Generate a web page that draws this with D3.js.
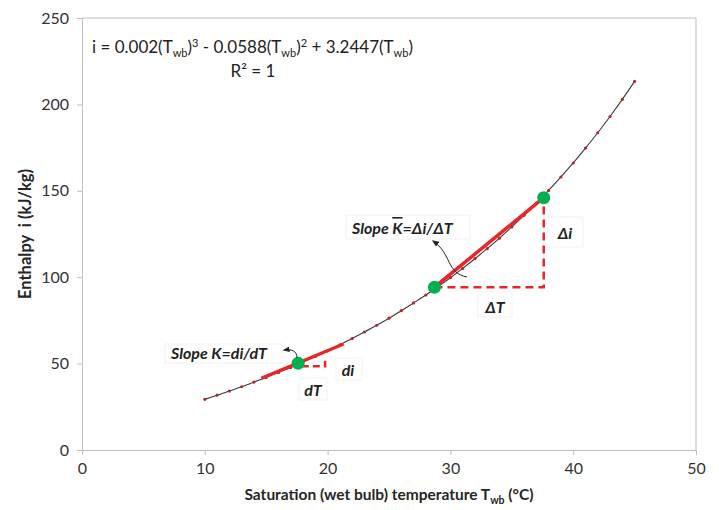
<!DOCTYPE html>
<html>
<head>
<meta charset="utf-8">
<script src="https://cdn.jsdelivr.net/npm/d3@7"></script>
<style>
  body { margin: 0; background: #fff; }
  text { font-family: Lato, "Open Sans", sans-serif; }
</style>
</head>
<body>
<svg width="719" height="510"></svg>
<script>
// saturated air enthalpy, one point per degree
const temps = [10, 11, 12, 13, 14, 15, 16, 17, 18, 19, 20, 21, 22, 23, 24, 25, 26, 27,
  28, 29, 30, 31, 32, 33, 34, 35, 36, 37, 38, 39, 40, 41, 42, 43, 44, 45];
const enthalpy = [29.3, 31.7, 34.1, 36.6, 39.3, 42.0, 44.9, 47.8, 50.9, 54.1, 57.4, 60.9,
  64.5, 68.3, 72.2, 76.3, 80.6, 85.1, 89.7, 94.6, 99.7, 105.1, 110.7, 116.5, 122.6, 129.1,
  135.8, 142.8, 150.2, 158.0, 166.1, 174.7, 183.6, 193.0, 202.9, 213.3];

// green points, tangent and secant
const keyT = [17.6, 28.7, 37.6];
const keyI = [50.2, 94.2, 146.0];
const tangentT = [14.6, 21.3];
const tangentI = [41.5, 61.3];
const deltaT = [28.7, 37.6, 37.6];
const deltaI = [94.2, 94.2, 141.8];
const smallT = [17.9, 19.8, 19.8];
const smallI = [48.4, 48.4, 51.8];

const xTicks = [0, 10, 20, 30, 40, 50];
const yTicks = [0, 50, 100, 150, 200, 250];

const svg = d3.select("svg");
const margin = {top: 18, right: 23, bottom: 60, left: 82};
const width = +svg.attr("width");
const height = +svg.attr("height");

const x = d3.scaleLinear().domain([0, 50]).range([margin.left, width - margin.right]);
const y = d3.scaleLinear().domain([0, 250]).range([height - margin.bottom, margin.top]);

const grey = "#bfbfbf";

// plot border (top + right)
svg.append("path")
  .attr("d", `M${x(0)},${y(250)}H${x(50)}V${y(0)}`)
  .attr("fill", "none").attr("stroke", grey);

// axes
const xAxis = svg.append("g")
  .attr("transform", `translate(0,${y(0)})`)
  .call(d3.axisBottom(x).tickValues(xTicks).tickSize(5).tickPadding(8));
const yAxis = svg.append("g")
  .attr("transform", `translate(${x(0)},0)`)
  .call(d3.axisLeft(y).tickValues(yTicks).tickSize(5).tickPadding(8));
[xAxis, yAxis].forEach(g => {
  g.select(".domain").attr("stroke", grey);
  g.selectAll(".tick line").attr("stroke", grey);
  g.selectAll(".tick text").attr("fill", "#333").style("font-size", "16px")
    .style("font-family", "Lato, sans-serif");
});

// axis titles
const xt = svg.append("text")
  .attr("x", (x(0) + x(50)) / 2).attr("y", 500)
  .attr("text-anchor", "middle")
  .style("font-size", "15.5px").style("font-weight", "bold").attr("fill", "#262626");
xt.append("tspan").text("Saturation (wet bulb) temperature T");
xt.append("tspan").attr("dy", 4).style("font-size", "10.5px").text("wb");
xt.append("tspan").attr("dy", -4).text(" (°C)");

svg.append("text")
  .attr("transform", `translate(31,${(y(0) + y(250)) / 2}) rotate(-90)`)
  .attr("text-anchor", "middle")
  .style("font-size", "16.5px").style("font-weight", "bold").attr("fill", "#262626")
  .attr("xml:space", "preserve")
  .text("Enthalpy  i (kJ/kg)");

// equation
const eq = svg.append("text").attr("x", 92).attr("y", 53)
  .style("font-size", "17px").attr("fill", "#222");
function twb(t) {
  t.append("tspan").text("(T");
  t.append("tspan").attr("dy", 4).style("font-size", "11px").text("wb");
  t.append("tspan").attr("dy", -4).text(")");
}
eq.append("tspan").text("i = 0.002");
twb(eq);
eq.append("tspan").attr("dy", -6).style("font-size", "11px").text("3");
eq.append("tspan").attr("dy", 6).text(" - 0.0588");
twb(eq);
eq.append("tspan").attr("dy", -6).style("font-size", "11px").text("2");
eq.append("tspan").attr("dy", 6).text(" + 3.2447");
twb(eq);
svg.append("text").attr("x", 253).attr("y", 77).attr("text-anchor", "middle")
  .style("font-size", "17px").attr("fill", "#222").text("R² = 1");

// curve and markers
const pts = temps.map((t, i) => [t, enthalpy[i]]);
const line = d3.line().x(d => x(d[0])).y(d => y(d[1])).curve(d3.curveMonotoneX);
svg.append("path").datum(pts).attr("d", line)
  .attr("fill", "none").attr("stroke", "#3a3a3a").attr("stroke-width", 1.1);
svg.append("g").selectAll("circle").data(pts).join("circle")
  .attr("cx", d => x(d[0])).attr("cy", d => y(d[1])).attr("r", 1.6)
  .attr("fill", "#b3262a");

const straight = d3.line().x(d => x(d[0])).y(d => y(d[1]));

// tangent at lower point
svg.append("path").datum(tangentT.map((t, i) => [t, tangentI[i]]))
  .attr("d", straight).attr("stroke", "#e8262a").attr("stroke-width", 3.2).attr("fill", "none");
// secant
svg.append("path").datum([[keyT[1], keyI[1]], [keyT[2], keyI[2]]])
  .attr("d", straight).attr("stroke", "#e8262a").attr("stroke-width", 3.5).attr("fill", "none");

// dashed triangles
svg.append("path").datum(deltaT.map((t, i) => [t, deltaI[i]]))
  .attr("d", straight).attr("stroke", "#e8262a").attr("stroke-width", 2.5)
  .attr("stroke-dasharray", "8,5").attr("fill", "none");
svg.append("path").datum(smallT.map((t, i) => [t, smallI[i]]))
  .attr("d", straight).attr("stroke", "#e8262a").attr("stroke-width", 2.5)
  .attr("stroke-dasharray", "7,4").attr("fill", "none");

// green points
svg.append("g").selectAll("circle").data(keyT.map((t, i) => [t, keyI[i]])).join("circle")
  .attr("cx", d => x(d[0])).attr("cy", d => y(d[1])).attr("r", 6.5)
  .attr("fill", "#00b04f");

// arrow marker
svg.append("defs").append("marker")
  .attr("id", "arr").attr("viewBox", "0 0 10 10").attr("refX", 8).attr("refY", 5)
  .attr("markerWidth", 7).attr("markerHeight", 7).attr("orient", "auto-start-reverse")
  .append("path").attr("d", "M0,1L10,5L0,9z").attr("fill", "#222");

// label boxes
function label(bx, by, bw, bh, tx, ty, anchor) {
  svg.append("rect").attr("x", bx).attr("y", by).attr("width", bw).attr("height", bh)
    .attr("fill", "#fff").attr("stroke", "#f2f2f2");
  return svg.append("text").attr("x", tx).attr("y", ty).attr("text-anchor", anchor)
    .style("font-size", "16px").style("font-weight", "bold").style("font-style", "italic")
    .attr("fill", "#222");
}

const l1 = label(346, 215, 124, 24, 352, 234, "start");
l1.append("tspan").text("Slope ");
l1.append("tspan").style("text-decoration", "overline").text("K");
l1.append("tspan").text("=Δi/ΔT");

label(165, 344, 117, 19, 171, 359, "start").text("Slope K=di/dT");
label(547, 217, 36, 30, 565, 239, "middle").text("Δi");
label(478, 292, 34, 25, 495, 313, "middle").text("ΔT");
label(336, 358, 26, 22, 348, 376, "middle").text("di");
label(299, 378, 28, 22, 313, 396, "middle").text("dT");

// curved arrows
svg.append("path").attr("d", "M467,277 C446,273 452,254 433,241")
  .attr("fill", "none").attr("stroke", "#222").attr("stroke-width", 1)
  .attr("marker-end", "url(#arr)");
svg.append("path").attr("d", "M297,358 C297,351 292,349 284,350")
  .attr("fill", "none").attr("stroke", "#222").attr("stroke-width", 1)
  .attr("marker-end", "url(#arr)");
</script>
</body>
</html>
